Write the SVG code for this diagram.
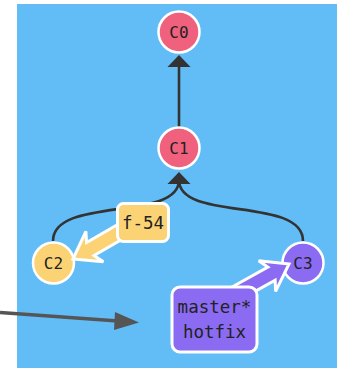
<svg xmlns="http://www.w3.org/2000/svg" width="337" height="368" viewBox="0 0 337 368">
  <style>
    .edge { fill: none; stroke: #333; stroke-width: 2.6; }
    .edgehead { fill: #333; }
    .commit { stroke: #fff; stroke-width: 2.5; }
    .c-red { fill: #f0617d; }
    .c-yellow { fill: #fcd374; }
    .c-purple { fill: #8a6bf1; }
    .clabel { font-family: "DejaVu Sans Mono", "Liberation Mono", monospace; font-size: 16px; fill: #222; text-anchor: middle; }
    .blabel { font-family: "DejaVu Sans Mono", "Liberation Mono", monospace; font-size: 17.5px; fill: #222; text-anchor: middle; }
    .branchbox { stroke: #fff; stroke-width: 3; }
    .branch-arrow { stroke: #fff; stroke-width: 3; stroke-linejoin: miter; }
  </style>
  <defs>
    <!-- branch pointer: tip at origin, pointing along +x -->
    <polygon id="ptr" points="0,0 -25,-17.5 -20,-7.5 -62,-7.5 -62,7.5 -20,7.5 -25,17.5"/>
  </defs>

  <!-- canvas -->
  <rect x="17" y="4" width="320" height="364" fill="#62bdf7"/>

  <!-- parent edges -->
  <g id="edges">
    <line class="edge" x1="179" y1="127" x2="179" y2="64"/>
    <polygon class="edgehead" points="179,55 167.5,67 190.5,67"/>
    <path class="edge" d="M53,241 C53,196 179,222 179,180"/>
    <path class="edge" d="M303,241 C303,196 179,222 179,180"/>
    <polygon class="edgehead" points="179,172 167.5,184 190.5,184"/>
  </g>

  <!-- commits -->
  <g id="C0">
    <circle class="commit c-red" cx="179" cy="32" r="20.5"/>
    <text class="clabel" x="179" y="37.5">C0</text>
  </g>
  <g id="C1">
    <circle class="commit c-red" cx="179" cy="148" r="20.5"/>
    <text class="clabel" x="179" y="153.5">C1</text>
  </g>
  <g id="C2">
    <circle class="commit c-yellow" cx="53.5" cy="263" r="20.5"/>
    <text class="clabel" x="53.5" y="268.5">C2</text>
  </g>
  <g id="C3">
    <circle class="commit c-purple" cx="303" cy="263" r="20.5"/>
    <text class="clabel" x="303" y="268.5">C3</text>
  </g>

  <!-- branch f-54 -->
  <g id="branch-f54">
    <use href="#ptr" class="branch-arrow c-yellow" transform="translate(73,259) rotate(150)"/>
    <rect class="branchbox c-yellow" x="117.5" y="203.5" width="51" height="38" rx="6"/>
    <text class="blabel" x="143" y="228.5">f-54</text>
  </g>

  <!-- branches master*, hotfix -->
  <g id="branch-master-hotfix">
    <use href="#ptr" class="branch-arrow c-purple" transform="translate(289,264) rotate(-29)"/>
    <rect class="branchbox c-purple" x="172" y="287" width="85" height="65" rx="8"/>
    <text class="blabel" x="214.5" y="313">master*</text>
    <text class="blabel" x="214.5" y="338">hotfix</text>
  </g>

  <!-- pointer arrow -->
  <g id="pointer">
    <line x1="0" y1="312.5" x2="118" y2="321" stroke="#555" stroke-width="3.5"/>
    <polygon points="139,322.5 115,312 114,330" fill="#555"/>
  </g>
</svg>
